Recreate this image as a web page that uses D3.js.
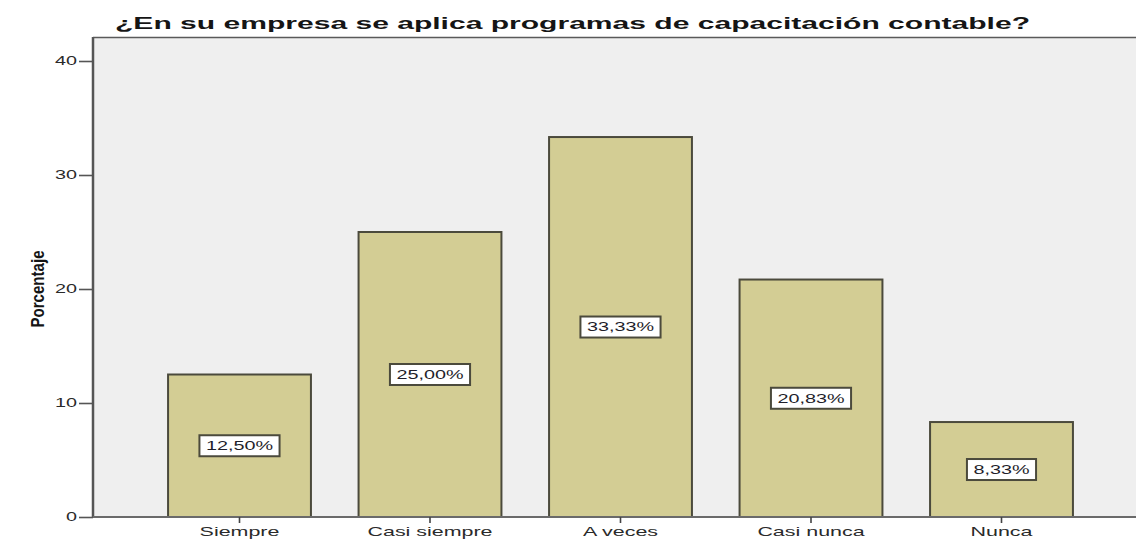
<!DOCTYPE html>
<html>
<head>
<meta charset="utf-8">
<script src="https://cdn.jsdelivr.net/npm/d3@7"></script>
<style>
  html, body { margin: 0; padding: 0; background: #fff; }
  svg { display: block; }
</style>
</head>
<body>
<svg id="chart" width="1136" height="539"></svg>
<script>
// Respuestas y porcentajes
const categories = ["Siempre", "Casi siempre", "A veces", "Casi nunca", "Nunca"];
const percentages = [12.50, 25.00, 33.33, 20.83, 8.33];
const yTicks = [0, 10, 20, 30, 40];
const titleText = "¿En su empresa se aplica programas de capacitación contable?";
const yLabel = "Porcentaje";

const svg = d3.select("#chart");
const plot = { left: 93, top: 37, right: 1136, bottom: 517 };
const SX = 1.65;              // ancho de los textos (estirado horizontal)
const FONT = "Liberation Sans, Arial, sans-serif";

const x = d3.scaleBand()
  .domain(categories)
  .range([144.25, 1096.75])
  .paddingInner(0.25)
  .paddingOuter(0.125);

const y = d3.scaleLinear()
  .domain([0, 40])
  .range([517, 61]);

// Fondo del área de trazado
svg.append("rect")
  .attr("x", plot.left).attr("y", plot.top)
  .attr("width", plot.right - plot.left).attr("height", plot.bottom - plot.top)
  .attr("fill", "#efefef");

// Borde superior del marco
svg.append("line")
  .attr("x1", plot.left).attr("x2", plot.right)
  .attr("y1", plot.top + 0.5).attr("y2", plot.top + 0.5)
  .attr("stroke", "#5a5a5a").attr("stroke-width", 1.6);

// Barras
svg.append("g").selectAll("rect")
  .data(categories)
  .join("rect")
  .attr("x", d => x(d))
  .attr("y", (d, i) => y(percentages[i]))
  .attr("width", x.bandwidth())
  .attr("height", (d, i) => y(0) - y(percentages[i]))
  .attr("fill", "#d3cd94")
  .attr("stroke", "#4b4a3c")
  .attr("stroke-width", 2);

// Etiquetas de valor en recuadros
const fmt = v => v.toFixed(2).replace(".", ",") + "%";
const lab = svg.append("g").selectAll("g")
  .data(categories)
  .join("g")
  .attr("transform", (d, i) => `translate(${x(d) + x.bandwidth() / 2},${y(percentages[i] / 2)})`);

lab.append("g")
  .attr("class", "txt")
  .attr("transform", `scale(${SX},1)`)
  .append("text")
  .attr("text-anchor", "middle")
  .attr("dy", "0.36em")
  .attr("font-family", FONT)
  .attr("font-size", 12)
  .attr("fill", "#1e1e2a")
  .text((d, i) => fmt(percentages[i]))
  .each(function () {
    const b = this.getBBox();
    const w = b.width * SX + 13;
    d3.select(this.parentNode.parentNode).insert("rect", "g.txt")
      .attr("x", -w / 2).attr("y", -10.5)
      .attr("width", w).attr("height", 21)
      .attr("fill", "#fff")
      .attr("stroke", "#4b4a3c")
      .attr("stroke-width", 2);
  });

// Estira horizontalmente los textos de un eje
function stretchTicks(g) {
  g.selectAll(".tick text").each(function () {
    const t = d3.select(this);
    const x0 = +t.attr("x") || 0;
    t.attr("x", x0 / SX).attr("transform", `scale(${SX},1)`);
  });
}

// Eje Y
const yAxis = d3.axisLeft(y).tickValues(yTicks).tickSize(14).tickPadding(2);
const gy = svg.append("g").attr("transform", `translate(${plot.left},0)`).call(yAxis);
gy.select(".domain").attr("d", `M0,${plot.top}V${plot.bottom}`).attr("stroke", "#555").attr("stroke-width", 2.5);
gy.selectAll(".tick line").attr("stroke", "#555").attr("stroke-width", 1.6);
gy.selectAll(".tick text")
  .attr("font-family", FONT)
  .attr("font-size", 12).attr("fill", "#2a2a2a");
stretchTicks(gy);

// Eje X
const xAxis = d3.axisBottom(x).tickSize(6).tickPadding(4);
const gx = svg.append("g").attr("transform", `translate(0,${plot.bottom})`).call(xAxis);
gx.select(".domain").attr("d", `M${plot.left},0H${plot.right}`).attr("stroke", "#6a6a6a").attr("stroke-width", 2);
gx.selectAll(".tick line").attr("stroke", "#444").attr("stroke-width", 1.6);
gx.selectAll(".tick text")
  .attr("font-family", FONT)
  .attr("font-size", 13).attr("fill", "#2a2a2a");
stretchTicks(gx);

// Título
svg.append("text")
  .attr("x", 115).attr("y", 29)
  .attr("text-anchor", "start")
  .attr("font-family", FONT)
  .attr("font-weight", "bold")
  .attr("font-size", 17)
  .attr("textLength", 915)
  .attr("lengthAdjust", "spacingAndGlyphs")
  .attr("fill", "#151515")
  .text(titleText);

// Título del eje Y
svg.append("g")
  .attr("transform", `translate(44,289) scale(${SX},1)`)
  .append("text")
  .attr("transform", "rotate(-90)")
  .attr("text-anchor", "middle")
  .attr("font-family", FONT)
  .attr("font-weight", "bold")
  .attr("font-size", 11)
  .attr("textLength", 77)
  .attr("lengthAdjust", "spacingAndGlyphs")
  .attr("fill", "#151515")
  .text(yLabel);
</script>
</body>
</html>
